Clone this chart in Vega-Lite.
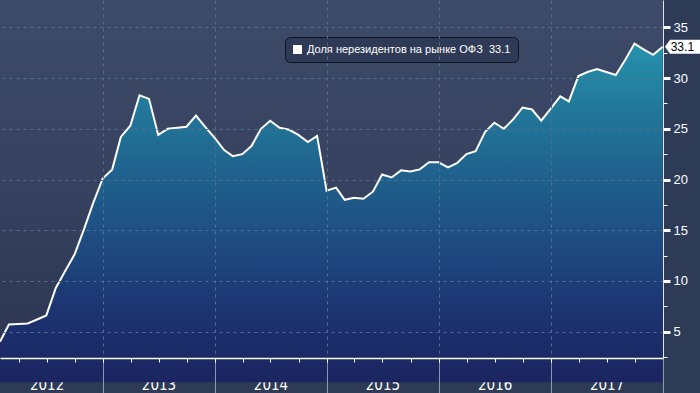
{
  "$schema": "https://vega.github.io/schema/vega-lite/v6.json",
  "width": 663,
  "height": 358,
  "autosize": {"type": "none"},
  "padding": {"left": 0, "top": 0, "right": 37, "bottom": 35},
  "background": "#2e3b57",
  "view": {
    "stroke": null,
    "fill": {"gradient": "linear", "x1": 0, "y1": 0, "x2": 0, "y2": 1,
      "stops": [{"offset": 0, "color": "#3e4b68"}, {"offset": 0.5, "color": "#364260"}, {"offset": 1, "color": "#2c3652"}]}
  },
  "config": {
    "font": "Liberation Sans",
    "axis": {"labelFont": "Liberation Sans"}
  },
  "data": {"values": [
    {"date": "2012-01-31", "value": 4.0},
    {"date": "2012-02-29", "value": 5.7},
    {"date": "2012-03-31", "value": 5.75},
    {"date": "2012-04-30", "value": 5.8},
    {"date": "2012-05-31", "value": 6.2},
    {"date": "2012-06-30", "value": 6.6},
    {"date": "2012-07-31", "value": 9.3},
    {"date": "2012-08-31", "value": 11.0},
    {"date": "2012-09-30", "value": 12.6},
    {"date": "2012-10-31", "value": 15.1},
    {"date": "2012-11-30", "value": 17.7},
    {"date": "2012-12-31", "value": 20.1},
    {"date": "2013-01-31", "value": 21.0},
    {"date": "2013-02-28", "value": 24.2},
    {"date": "2013-03-31", "value": 25.3},
    {"date": "2013-04-30", "value": 28.3},
    {"date": "2013-05-31", "value": 27.95},
    {"date": "2013-06-30", "value": 24.4},
    {"date": "2013-07-31", "value": 25.0},
    {"date": "2013-08-31", "value": 25.1},
    {"date": "2013-09-30", "value": 25.2},
    {"date": "2013-10-31", "value": 26.3},
    {"date": "2013-11-30", "value": 25.2},
    {"date": "2013-12-31", "value": 24.1},
    {"date": "2014-01-31", "value": 22.9},
    {"date": "2014-02-28", "value": 22.3},
    {"date": "2014-03-31", "value": 22.5},
    {"date": "2014-04-30", "value": 23.3},
    {"date": "2014-05-31", "value": 25.0},
    {"date": "2014-06-30", "value": 25.8},
    {"date": "2014-07-31", "value": 25.1},
    {"date": "2014-08-31", "value": 24.9},
    {"date": "2014-09-30", "value": 24.4},
    {"date": "2014-10-31", "value": 23.7},
    {"date": "2014-11-30", "value": 24.3},
    {"date": "2014-12-31", "value": 18.9},
    {"date": "2015-01-31", "value": 19.2},
    {"date": "2015-02-28", "value": 18.0},
    {"date": "2015-03-31", "value": 18.2},
    {"date": "2015-04-30", "value": 18.1},
    {"date": "2015-05-31", "value": 18.8},
    {"date": "2015-06-30", "value": 20.5},
    {"date": "2015-07-31", "value": 20.2},
    {"date": "2015-08-31", "value": 20.9},
    {"date": "2015-09-30", "value": 20.8},
    {"date": "2015-10-31", "value": 21.0},
    {"date": "2015-11-30", "value": 21.7},
    {"date": "2015-12-31", "value": 21.7},
    {"date": "2016-01-31", "value": 21.2},
    {"date": "2016-02-29", "value": 21.6},
    {"date": "2016-03-31", "value": 22.5},
    {"date": "2016-04-30", "value": 22.8},
    {"date": "2016-05-31", "value": 24.7},
    {"date": "2016-06-30", "value": 25.6},
    {"date": "2016-07-31", "value": 25.0},
    {"date": "2016-08-31", "value": 25.95},
    {"date": "2016-09-30", "value": 27.1},
    {"date": "2016-10-31", "value": 26.9},
    {"date": "2016-11-30", "value": 25.8},
    {"date": "2016-12-31", "value": 27.0},
    {"date": "2017-01-31", "value": 28.2},
    {"date": "2017-02-28", "value": 27.7},
    {"date": "2017-03-31", "value": 30.2},
    {"date": "2017-04-30", "value": 30.6},
    {"date": "2017-05-31", "value": 30.9},
    {"date": "2017-06-30", "value": 30.6},
    {"date": "2017-07-31", "value": 30.3},
    {"date": "2017-08-31", "value": 31.8},
    {"date": "2017-09-30", "value": 33.4},
    {"date": "2017-10-31", "value": 32.8},
    {"date": "2017-11-30", "value": 32.3},
    {"date": "2017-12-31", "value": 33.1}
  ]},
  "encoding": {
    "y": {
      "field": "value", "type": "quantitative",
      "scale": {"domain": [2.4, 37.7], "nice": false, "zero": false},
      "axis": {
        "orient": "right", "title": null, "zindex": 1,
        "values": [2.5, 5, 7.5, 10, 12.5, 15, 17.5, 20, 22.5, 25, 27.5, 30, 32.5, 35],
        "labelExpr": "datum.value % 5 == 0 ? datum.label : ''",
        "labelColor": "#ffffff", "labelFontSize": 13, "labelPadding": 3,
        "domainColor": "#dfe4ec", "domainWidth": 1,
        "tickColor": "#ffffff",
        "tickSize": {"condition": {"test": "datum.value % 5 == 0", "value": 7}, "value": 4},
        "tickWidth": {"condition": {"test": "datum.value % 5 == 0", "value": 3}, "value": 1},
        "grid": true,
        "gridColor": "#52708e", "gridDash": [3, 4], "gridWidth": 1,
        "gridOpacity": {"condition": {"test": "datum.value % 5 == 0", "value": 1}, "value": 0}
      }
    }
  },
  "layer": [
    {
      "mark": {"type": "area", "fill": {"gradient": "linear", "x1": 0, "y1": 1, "x2": 0, "y2": 0,
        "stops": [
          {"offset": 0, "color": "#1a2460"},
          {"offset": 0.2, "color": "#1c3370"},
          {"offset": 0.4, "color": "#1e4a80"},
          {"offset": 0.6, "color": "#1f608c"},
          {"offset": 0.8, "color": "#227799"},
          {"offset": 1, "color": "#2792ad"}
        ]}},
      "encoding": {
        "x": {
          "field": "date", "type": "temporal",
          "scale": {"type": "utc", "domain": [{"year": 2012, "month": 1, "date": 31, "utc": true}, {"year": 2018, "month": 1, "date": 1, "utc": true}]},
          "axis": {
            "orient": "bottom", "title": null, "zindex": 1,
            "values": [
              {"year": 2013, "month": 1, "date": 1, "utc": true},
              {"year": 2014, "month": 1, "date": 1, "utc": true},
              {"year": 2015, "month": 1, "date": 1, "utc": true},
              {"year": 2016, "month": 1, "date": 1, "utc": true},
              {"year": 2017, "month": 1, "date": 1, "utc": true},
              {"year": 2018, "month": 1, "date": 1, "utc": true}
            ],
            "labels": false, "domain": false,
            "ticks": true, "tickSize": 35, "tickColor": "#8d97aa", "tickWidth": 1,
            "grid": true, "gridColor": "#52708e", "gridDash": [3, 4], "gridWidth": 1
          }
        }
      }
    },
    {
      "mark": {"type": "line", "strokeWidth": 2},
      "encoding": {
        "x": {
          "field": "date", "type": "temporal",
          "axis": {
            "orient": "bottom", "title": null,
            "values": [
              {"year": 2012, "month": 7, "date": 1, "utc": true},
              {"year": 2013, "month": 7, "date": 1, "utc": true},
              {"year": 2014, "month": 7, "date": 1, "utc": true},
              {"year": 2015, "month": 7, "date": 1, "utc": true},
              {"year": 2016, "month": 7, "date": 1, "utc": true},
              {"year": 2017, "month": 7, "date": 1, "utc": true}
            ],
            "labelExpr": "utcFormat(datum.value, '%Y')",
            "ticks": false, "domain": false, "grid": false,
            "labelColor": "#ffffff", "labelFontSize": 15,
            "labelFont": "Liberation Sans Narrow, DejaVu Sans Condensed, sans-serif",
            "labelBaseline": "alphabetic", "labelPadding": 31, "labelFlush": false, "labelOverlap": false
          }
        },
        "color": {
          "datum": "Доля нерезидентов на рынке ОФЗ\u00a0\u00a033.1",
          "type": "nominal",
          "scale": {"range": ["#ffffff"]},
          "legend": {
            "title": null, "orient": "none", "legendX": 285, "legendY": 37,
            "symbolType": "square", "symbolSize": 81,
            "symbolFillColor": "#ffffff", "symbolStrokeColor": "#ffffff", "symbolStrokeWidth": 0,
            "labelColor": "#ffffff", "labelFontSize": 11, "labelFont": "Liberation Sans", "labelLimit": 400,
            "fillColor": "#2f3b56", "strokeColor": "#0f1422", "cornerRadius": 5, "padding": 7,
            "encode": {"symbols": {"update": {"fill": {"value": "#ffffff"}, "stroke": {"value": "#ffffff"}, "shape": {"value": "square"}}}}
          }
        }
      }
    },
    {
      "transform": [{"filter": "datum.value == 33.1"}],
      "mark": {"type": "point", "filled": true, "shape": "M0.115,0 L0.365,-0.35 L2,-0.35 L2,0.35 L0.365,0.35 Z", "size": 1600, "color": "#ffffff", "opacity": 1, "strokeWidth": 0},
      "encoding": {
        "x": {
          "field": "date", "type": "temporal",
          "axis": {
            "orient": "bottom", "title": null, "zindex": 1,
            "values": [
              {"year": 2012, "month": 4, "date": 1, "utc": true},
              {"year": 2012, "month": 7, "date": 1, "utc": true},
              {"year": 2012, "month": 10, "date": 1, "utc": true},
              {"year": 2013, "month": 1, "date": 1, "utc": true},
              {"year": 2013, "month": 4, "date": 1, "utc": true},
              {"year": 2013, "month": 7, "date": 1, "utc": true},
              {"year": 2013, "month": 10, "date": 1, "utc": true},
              {"year": 2014, "month": 1, "date": 1, "utc": true},
              {"year": 2014, "month": 4, "date": 1, "utc": true},
              {"year": 2014, "month": 7, "date": 1, "utc": true},
              {"year": 2014, "month": 10, "date": 1, "utc": true},
              {"year": 2015, "month": 1, "date": 1, "utc": true},
              {"year": 2015, "month": 4, "date": 1, "utc": true},
              {"year": 2015, "month": 7, "date": 1, "utc": true},
              {"year": 2015, "month": 10, "date": 1, "utc": true},
              {"year": 2016, "month": 1, "date": 1, "utc": true},
              {"year": 2016, "month": 4, "date": 1, "utc": true},
              {"year": 2016, "month": 7, "date": 1, "utc": true},
              {"year": 2016, "month": 10, "date": 1, "utc": true},
              {"year": 2017, "month": 1, "date": 1, "utc": true},
              {"year": 2017, "month": 4, "date": 1, "utc": true},
              {"year": 2017, "month": 7, "date": 1, "utc": true},
              {"year": 2017, "month": 10, "date": 1, "utc": true}
            ],
            "labels": false, "grid": false,
            "domain": true, "domainColor": "#ffffff", "domainWidth": 1.5,
            "ticks": true, "tickSize": 4, "tickColor": "#ffffff", "tickWidth": 1
          }
        }
      }
    },
    {
      "transform": [{"filter": "datum.value == 33.1"}],
      "mark": {"type": "text", "align": "left", "baseline": "middle", "dx": 8, "dy": 0, "fontSize": 12, "font": "Liberation Sans", "color": "#000000"},
      "encoding": {
        "x": {"field": "date", "type": "temporal", "axis": null},
        "text": {"field": "value", "type": "quantitative", "format": ".1f"}
      }
    }
  ],
  "resolve": {"axis": {"x": "independent"}}
}
